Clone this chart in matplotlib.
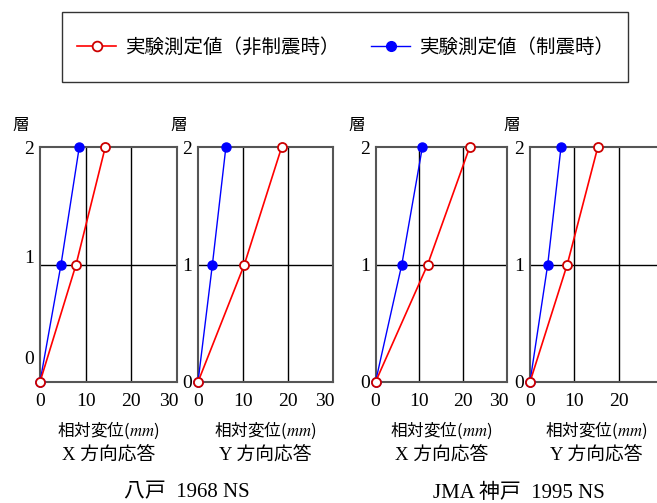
import matplotlib
matplotlib.use("Agg")
import matplotlib.pyplot as plt
from matplotlib.lines import Line2D
from matplotlib.patches import Rectangle
import matplotlib.transforms as mtransforms

plt.rcParams['mathtext.fontset'] = 'stix'

# data: story level vs relative displacement (mm)
levels = [0, 1, 2]
hachi_x_free = [0, 7.9, 14.3]
hachi_x_ctrl = [0, 4.6, 8.6]
hachi_y_free = [0, 10.3, 18.6]
hachi_y_ctrl = [0, 3.2, 6.2]
kobe_x_free = [0, 11.9, 21.5]
kobe_x_ctrl = [0, 6.0, 10.7]
kobe_y_free = [0, 8.4, 15.3]
kobe_y_ctrl = [0, 4.0, 7.0]

free_label = '実験測定値（非制震時）'
ctrl_label = '実験測定値（制震時）'
dir_labels = ['X 方向応答', 'Y 方向応答', 'X 方向応答', 'Y 方向応答']
quake_labels = ['八戸  1968 NS', 'JMA 神戸  1995 NS']
xticks = [0, 10, 20, 30]
yticks = [0, 1, 2]

W, H = 657, 503
fig = plt.figure(figsize=(W / 100, H / 100), dpi=100)

serif = ['Liberation Serif', 'Noto Sans CJK JP']
cjk = ['Noto Sans CJK JP', 'DejaVu Sans']

def px_axes(x0, x1, y_top, y_bot):
    return fig.add_axes([x0 / W, 1 - y_bot / H, (x1 - x0) / W, (y_bot - y_top) / H])

def shift(lab, dx, dy):
    lab.set_transform(lab.get_transform() +
                      mtransforms.ScaledTranslation(dx / 100, dy / 100, fig.dpi_scale_trans))

panels = [
    (40, 177, hachi_x_free, hachi_x_ctrl),
    (198, 333, hachi_y_free, hachi_y_ctrl),
    (375.5, 507, kobe_x_free, kobe_x_ctrl),
    (530, 663, kobe_y_free, kobe_y_ctrl),
]

axes = []
for i, (x0, x1, free, ctrl) in enumerate(panels):
    ax = px_axes(x0, x1, 147, 382)
    axes.append(ax)
    ax.set_xlim(0, 30)
    ax.set_ylim(0, 2)
    for v in (10, 20):
        ax.axvline(v, color='black', lw=1.0, zorder=1)
    ax.axhline(1, color='black', lw=1.0, zorder=1)
    ax.plot(ctrl, levels, color='blue', lw=1.0, marker='o', ms=6.5,
            mfc='blue', mec='blue', clip_on=False, zorder=3)
    ax.plot(free, levels, color='red', lw=1.2, marker='o', ms=6.5,
            mfc='white', mec='#cc0000', mew=1.3, clip_on=False, zorder=4)
    for s in ax.spines.values():
        s.set_color('#555555')
        s.set_linewidth(1.5)
    ax.set_xticks(xticks)
    xl = [str(t) for t in xticks]
    if i == 3:
        xl[-1] = ''  # cut off by the figure edge in the original
    ax.set_xticklabels(xl, fontfamily='Liberation Serif', fontsize=14)
    ax.set_yticks(yticks)
    ax.set_yticklabels([str(t) for t in yticks], fontfamily='Liberation Serif', fontsize=14)
    ax.tick_params(axis='x', length=0, pad=8)
    ax.tick_params(axis='y', length=0, pad=4)
    shift(ax.get_xticklabels()[-1], -8, 0)
    ax.set_xlabel('相対変位($mm$)', family=cjk, fontsize=12, labelpad=7)
    fig.text(((x0 + x1) / 2) / W, 1 - 455 / H, dir_labels[i],
             family=serif, fontsize=13.5, ha='center', va='center')
    ax.text(-0.14, 1.09, '層', transform=ax.transAxes, family=cjk,
            fontsize=12, ha='center', va='center')

# first panel: y tick labels sit higher in the original
for lab, dy in zip(axes[0].get_yticklabels(), [25, 8, 0]):
    shift(lab, 0, dy)

fig.text(187 / W, 1 - 493 / H, quake_labels[0], family=serif, fontsize=15,
         ha='center', va='center')
fig.text(519 / W, 1 - 493 / H, quake_labels[1], family=serif, fontsize=15,
         ha='center', va='center')

# legend box
fig.patches.append(Rectangle((62 / W, 1 - 82 / H), 566 / W, 70 / H,
                             transform=fig.transFigure, fill=False,
                             edgecolor='#333333', lw=1.0))
handles = [
    Line2D([], [], color='red', lw=1.2, marker='o', ms=7, mfc='white', mec='#cc0000', mew=1.3),
    Line2D([], [], color='blue', lw=1.0, marker='o', ms=7, mfc='blue', mec='blue'),
]
fig.legend(handles, [free_label, ctrl_label], loc='center',
           bbox_to_anchor=(346 / W, 1 - 47 / H), ncol=2, frameon=False,
           prop={'family': cjk, 'size': 14}, handlelength=2.0,
           handletextpad=0.5, columnspacing=1.6)

fig.savefig('out.png', dpi=100)
